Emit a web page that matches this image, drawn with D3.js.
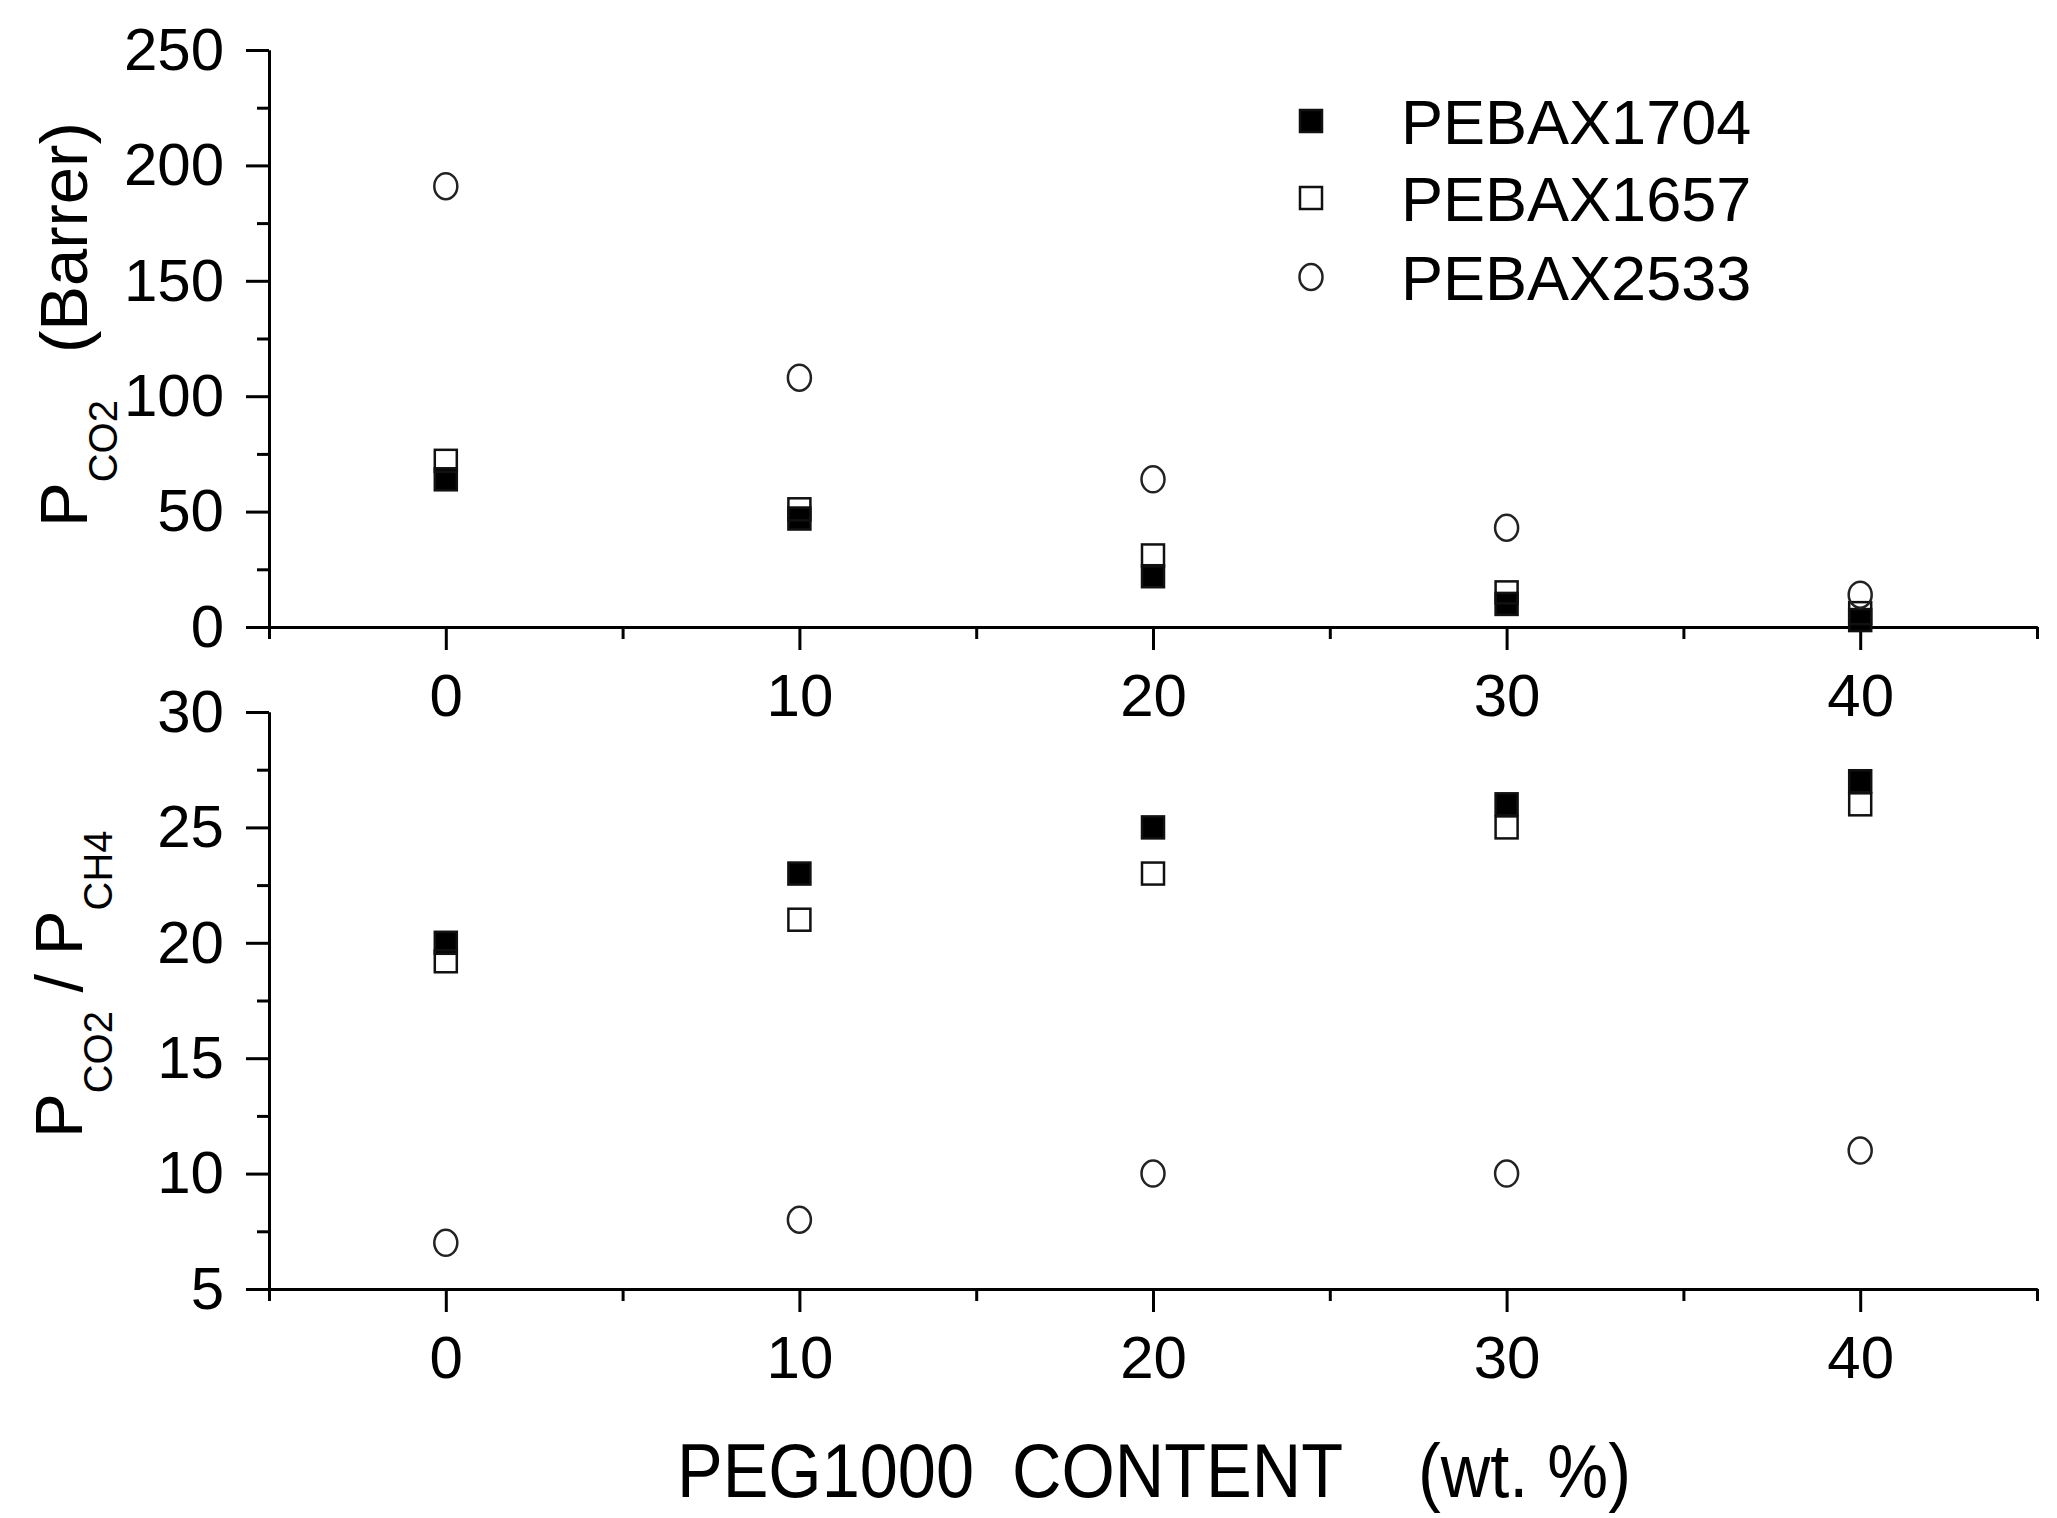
<!DOCTYPE html>
<html>
<head>
<meta charset="utf-8">
<script src="https://cdn.jsdelivr.net/npm/d3@7"></script>
<style>
  html, body { margin: 0; padding: 0; background: #fff; }
  svg { display: block; }
  text { font-family: "Liberation Sans", Arial, sans-serif; fill: #000; }
</style>
</head>
<body>
<svg id="chart" width="2057" height="1518"></svg>
<script>
// ---- data ----
const pegContent = [0, 10, 20, 30, 40];
const seriesNames = ["PEBAX1704", "PEBAX1657", "PEBAX2533"];
// CO2 permeability (Barrer)
const pco2_1704 = [64, 47, 22, 10, 3];
const pco2_1657 = [72, 51, 31, 15, 6];
const pco2_2533 = [191, 108, 64, 43, 14];
// CO2/CH4 selectivity
const sel_1704 = [20, 23, 25, 26, 27];
const sel_1657 = [19.2, 21, 23, 25, 26];
const sel_2533 = [7, 8, 10, 10, 11];
// ticks
const xMajorTicks = [0, 10, 20, 30, 40];
const xMinorTicks = [-5, 5, 15, 25, 35, 45];
const topMajorTicks = [0, 50, 100, 150, 200, 250];
const topMinorTicks = [25, 75, 125, 175, 225];
const botMajorTicks = [5, 10, 15, 20, 25, 30];
const botMinorTicks = [7.5, 12.5, 17.5, 22.5, 27.5];

// ---- layout ----
const svg = d3.select("#chart");
const left = 269, right = 2037;
const top1 = 50, bot1 = 627;
const top2 = 712, bot2 = 1289;
const majorLen = 23, minorLen = 12;
const tickFont = 60;
const axisW = 3;

const x = d3.scaleLinear().domain([-5, 45]).range([left, right]);
const y1 = d3.scaleLinear().domain([0, 250]).range([bot1, top1]);
const y2 = d3.scaleLinear().domain([5, 30]).range([bot2, top2]);

function styleAxis(g) {
  g.selectAll("path.domain").attr("stroke", "#000").attr("stroke-width", axisW);
  g.selectAll(".tick line").attr("stroke", "#000").attr("stroke-width", axisW);
  g.selectAll(".tick text").attr("font-size", tickFont)
    .attr("font-family", '"Liberation Sans", Arial, sans-serif').attr("fill", "#000");
}

function drawPanel(yScale, bottomY, majors, minors) {
  svg.append("g").attr("transform", `translate(${left},0)`)
    .call(d3.axisLeft(yScale).tickValues(minors).tickSize(minorLen).tickSizeOuter(0).tickFormat(""))
    .call(styleAxis);
  svg.append("g").attr("transform", `translate(${left},0)`)
    .call(d3.axisLeft(yScale).tickValues(majors).tickSize(majorLen).tickSizeOuter(0).tickPadding(22).tickFormat(d3.format("d")))
    .call(styleAxis);
  svg.append("g").attr("transform", `translate(0,${bottomY})`)
    .call(d3.axisBottom(x).tickValues(xMinorTicks).tickSize(minorLen).tickSizeOuter(0).tickFormat(""))
    .call(styleAxis);
  svg.append("g").attr("transform", `translate(0,${bottomY})`)
    .call(d3.axisBottom(x).tickValues(xMajorTicks).tickSize(majorLen).tickSizeOuter(0).tickPadding(23).tickFormat(d3.format("d")))
    .call(styleAxis);
}

drawPanel(y1, bot1, topMajorTicks, topMinorTicks);
drawPanel(y2, bot2, botMajorTicks, botMinorTicks);

// ---- markers ----
const sq = 22;
function squares(yScale, vals, filled) {
  svg.append("g").selectAll("rect").data(vals).join("rect")
    .attr("x", (d, i) => x(pegContent[i]) - sq / 2)
    .attr("y", d => yScale(d) - sq / 2)
    .attr("width", sq).attr("height", sq)
    .attr("fill", filled ? "#000" : "none")
    .attr("stroke", "#111").attr("stroke-width", 2.5);
}
function circles(yScale, vals) {
  svg.append("g").selectAll("ellipse").data(vals).join("ellipse")
    .attr("cx", (d, i) => x(pegContent[i]))
    .attr("cy", d => yScale(d))
    .attr("rx", 11.5).attr("ry", 13)
    .attr("fill", "none").attr("stroke", "#222").attr("stroke-width", 2.5);
}
squares(y1, pco2_1704, true);
squares(y1, pco2_1657, false);
circles(y1, pco2_2533);
squares(y2, sel_1704, true);
squares(y2, sel_1657, false);
circles(y2, sel_2533);

// ---- legend ----
const legY = [121, 198, 277];
const legMX = 1311, legTX = 1401;
const lg = svg.append("g");
lg.append("rect").attr("x", legMX - sq / 2).attr("y", legY[0] - sq / 2).attr("width", sq).attr("height", sq)
  .attr("fill", "#000").attr("stroke", "#111").attr("stroke-width", 2.5);
lg.append("rect").attr("x", legMX - sq / 2).attr("y", legY[1] - sq / 2).attr("width", sq).attr("height", sq)
  .attr("fill", "none").attr("stroke", "#111").attr("stroke-width", 2.5);
lg.append("ellipse").attr("cx", legMX).attr("cy", legY[2]).attr("rx", 11.5).attr("ry", 13)
  .attr("fill", "none").attr("stroke", "#222").attr("stroke-width", 2.5);
seriesNames.forEach((n, i) => {
  lg.append("text").attr("x", legTX).attr("y", legY[i]).attr("dy", "0.36em")
    .attr("font-size", 63).text(n);
});

// ---- axis titles ----
const titleFont = 67, subFont = 40, subShift = 30;
// top y title
const t1 = svg.append("text")
  .attr("transform", `translate(87,527) rotate(-90)`)
  .attr("text-anchor", "start").attr("font-size", titleFont);
t1.append("tspan").text("P");
t1.append("tspan").attr("font-size", subFont).attr("dy", subShift).text("CO2");
t1.append("tspan").attr("dy", -subShift).attr("dx", 47).text("(Barrer)");

// bottom y title
const t2 = svg.append("text")
  .attr("transform", `translate(82,1138) rotate(-90)`)
  .attr("text-anchor", "start").attr("font-size", titleFont);
t2.append("tspan").text("P");
t2.append("tspan").attr("font-size", subFont).attr("dy", subShift).text("CO2");
t2.append("tspan").attr("dy", -subShift).text("\u00a0/\u00a0P");
t2.append("tspan").attr("font-size", subFont).attr("dy", subShift).text("CH4");

// x title
svg.append("text")
  .attr("x", 677).attr("y", 1497)
  .attr("font-size", 76)
  .attr("textLength", 954).attr("lengthAdjust", "spacingAndGlyphs")
  .style("white-space", "pre")
  .text("PEG1000  CONTENT    (wt. %)");
</script>
</body>
</html>
